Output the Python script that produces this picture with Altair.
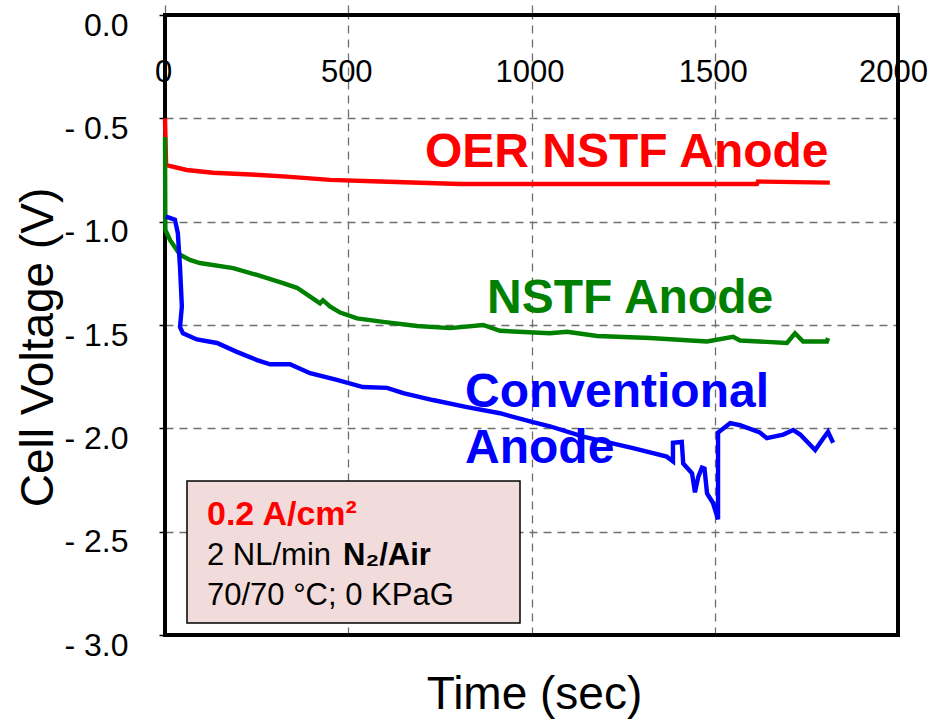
import altair as alt
import pandas as pd

# ---- data ----
red_t = [0, 3, 59, 131, 259, 332, 450, 587, 805, 1050, 1615, 1618, 1814]
red_v = [-0.50, -0.726, -0.75, -0.763, -0.774, -0.782, -0.798, -0.806, -0.818, -0.818, -0.818, -0.806, -0.811]

green_t = [0, 1, 14, 41, 68, 95, 186, 251, 322, 360, 396, 423, 431, 450, 478, 524, 595,
           688, 778, 868, 914, 1050, 1097, 1179, 1323, 1479, 1550, 1569, 1697, 1719, 1741, 1806, 1809]
green_v = [-0.59, -1.04, -1.09, -1.16, -1.185, -1.20, -1.225, -1.258, -1.297, -1.32, -1.363, -1.395,
           -1.38, -1.41, -1.44, -1.468, -1.485, -1.505, -1.515, -1.50, -1.528, -1.54, -1.533, -1.553,
           -1.563, -1.58, -1.557, -1.575, -1.587, -1.54, -1.58, -1.58, -1.563]

blue_t = [2, 5, 27, 35, 41, 46, 41, 49, 87, 142, 196, 251, 287, 341, 396, 469, 540, 606, 650, 731,
          824, 914, 1004, 1050, 1141, 1277, 1369, 1386, 1386, 1410, 1414, 1438, 1446, 1455, 1465,
          1472, 1479, 1495, 1509, 1509, 1542, 1569, 1623, 1642, 1687, 1714, 1733, 1774, 1793, 1809, 1823]
blue_v = [-0.975, -0.977, -0.99, -1.055, -1.22, -1.41, -1.51, -1.54, -1.57, -1.587, -1.63, -1.67,
          -1.69, -1.69, -1.733, -1.766, -1.80, -1.804, -1.83, -1.863, -1.897, -1.927, -1.97, -1.99,
          -2.04, -2.096, -2.137, -2.16, -2.07, -2.066, -2.17, -2.217, -2.31, -2.235, -2.19, -2.195,
          -2.315, -2.36, -2.44, -2.02, -1.975, -1.985, -2.02, -2.047, -2.03, -2.008, -2.03, -2.105,
          -2.056, -2.017, -2.07]

series_names = ["OER NSTF Anode", "NSTF Anode", "Conventional Anode"]
series_colors = ["#ff0000", "#008000", "#0000ff"]

x_ticks = [0, 500, 1000, 1500, 2000]
y_ticks = [0.0, -0.5, -1.0, -1.5, -2.0, -2.5, -3.0]

box_lines = ["0.2 A/cm\u00b2", "2 NL/min", "N\u2082/Air", "70/70 \u00b0C; 0 KPaG"]

FONT = "Liberation Sans"

rows = []
for name, ts, vs in zip(series_names, [red_t, green_t, blue_t], [red_v, green_v, blue_v]):
    for i, (t, v) in enumerate(zip(ts, vs)):
        rows.append({"t": t, "v": v, "series": name, "i": i})
df = pd.DataFrame(rows)

x_enc = alt.X(
    "t:Q",
    scale=alt.Scale(domain=[0, 2000], nice=False, zero=False),
    axis=alt.Axis(
        orient="top", values=x_ticks, format="d", title="Time (sec)", titleFontSize=46,
        titleFontWeight="normal", titleX=369, titleY=693, titleBaseline="alphabetic",
        titleAlign="center", titleAngle=0, titleFont=FONT, titleColor="black",
        labelFont=FONT, labelColor="black",
        labelFontSize=31, labelFlush=False, labelOverlap=False, labelBaseline="middle",
        labelOffset={"condition": {"test": "datum.value == 2000", "value": -5}, "value": -2},
        labelPadding=-67, tickSize=10, tickColor="#6f6f6f", tickWidth=1.3,
        domain=False, grid=True, gridDash=[8, 6], gridColor="#6f6f6f", gridWidth=1.3,
    ),
)
y_enc = alt.Y(
    "v:Q",
    scale=alt.Scale(domain=[-3, 0], nice=False, zero=False),
    axis=alt.Axis(
        values=y_ticks, title="Cell Voltage (V)", titleFontSize=46, titleFontWeight="normal",
        titleX=-127, titleY=332, titleAngle=-90, titleBaseline="middle", titleAlign="center",
        titleFont=FONT, titleColor="black", labelFont=FONT, labelColor="black",
        labelFontSize=32, labelPadding=31, labelOffset=10, labelFlush=False, labelOverlap=False,
        labelExpr="datum.value == 0 ? '0.0' : '- ' + format(-datum.value, '.1f')",
        tickSize=6, tickColor="black", tickWidth=1.5,
        domain=False, grid=True, gridDash=[8, 6], gridColor="#6f6f6f", gridWidth=1.3,
    ),
)

lines = alt.Chart(df).mark_line(strokeWidth=4.4, strokeJoin="miter").encode(
    x=x_enc, y=y_enc,
    color=alt.Color("series:N", scale=alt.Scale(domain=series_names, range=series_colors), legend=None),
    order="i:Q",
    detail="series:N",
)

one = pd.DataFrame({"a": [0]})

box = alt.Chart(one).mark_rect(fill="#f2dcdb", stroke="black", strokeWidth=1.5).encode(
    x=alt.value(22), x2=alt.value(355), y=alt.value(466), y2=alt.value(608)
)

frame = alt.Chart(one).mark_rect(fillOpacity=0, stroke="black", strokeWidth=4).encode(
    x=alt.value(0), x2=alt.value(733), y=alt.value(0), y2=alt.value(620)
)

def label(text, x, y, size, color, weight):
    return alt.Chart(one).mark_text(
        text=text, align="left", baseline="alphabetic", font=FONT, fontSize=size,
        fontWeight=weight, color=color,
    ).encode(x=alt.value(x), y=alt.value(y))

annots = [
    label(series_names[0], 260, 152, 48, series_colors[0], "bold"),
    label("NSTF Anode", 322, 298, 48, series_colors[1], "bold"),
    label("Conventional", 300, 392, 48, series_colors[2], "bold"),
    label("Anode", 300, 448, 48, series_colors[2], "bold"),
    label(box_lines[0], 42, 510, 34, "#ff0000", "bold"),
    label(box_lines[1], 42, 550, 31, "black", "normal"),
    label(box_lines[2], 178, 550, 31, "black", "bold"),
    label(box_lines[3], 42, 590, 31, "black", "normal"),
]

chart = alt.layer(box, frame, lines, *annots).properties(
    width=733, height=620,
    padding={"left": 165, "top": 15, "right": 34, "bottom": 88},
    autosize=alt.AutoSizeParams(type="none"),
    background="white",
).configure_view(
    stroke=None
)

chart.save("out.html", embed_options={"renderer": "svg", "actions": False})
